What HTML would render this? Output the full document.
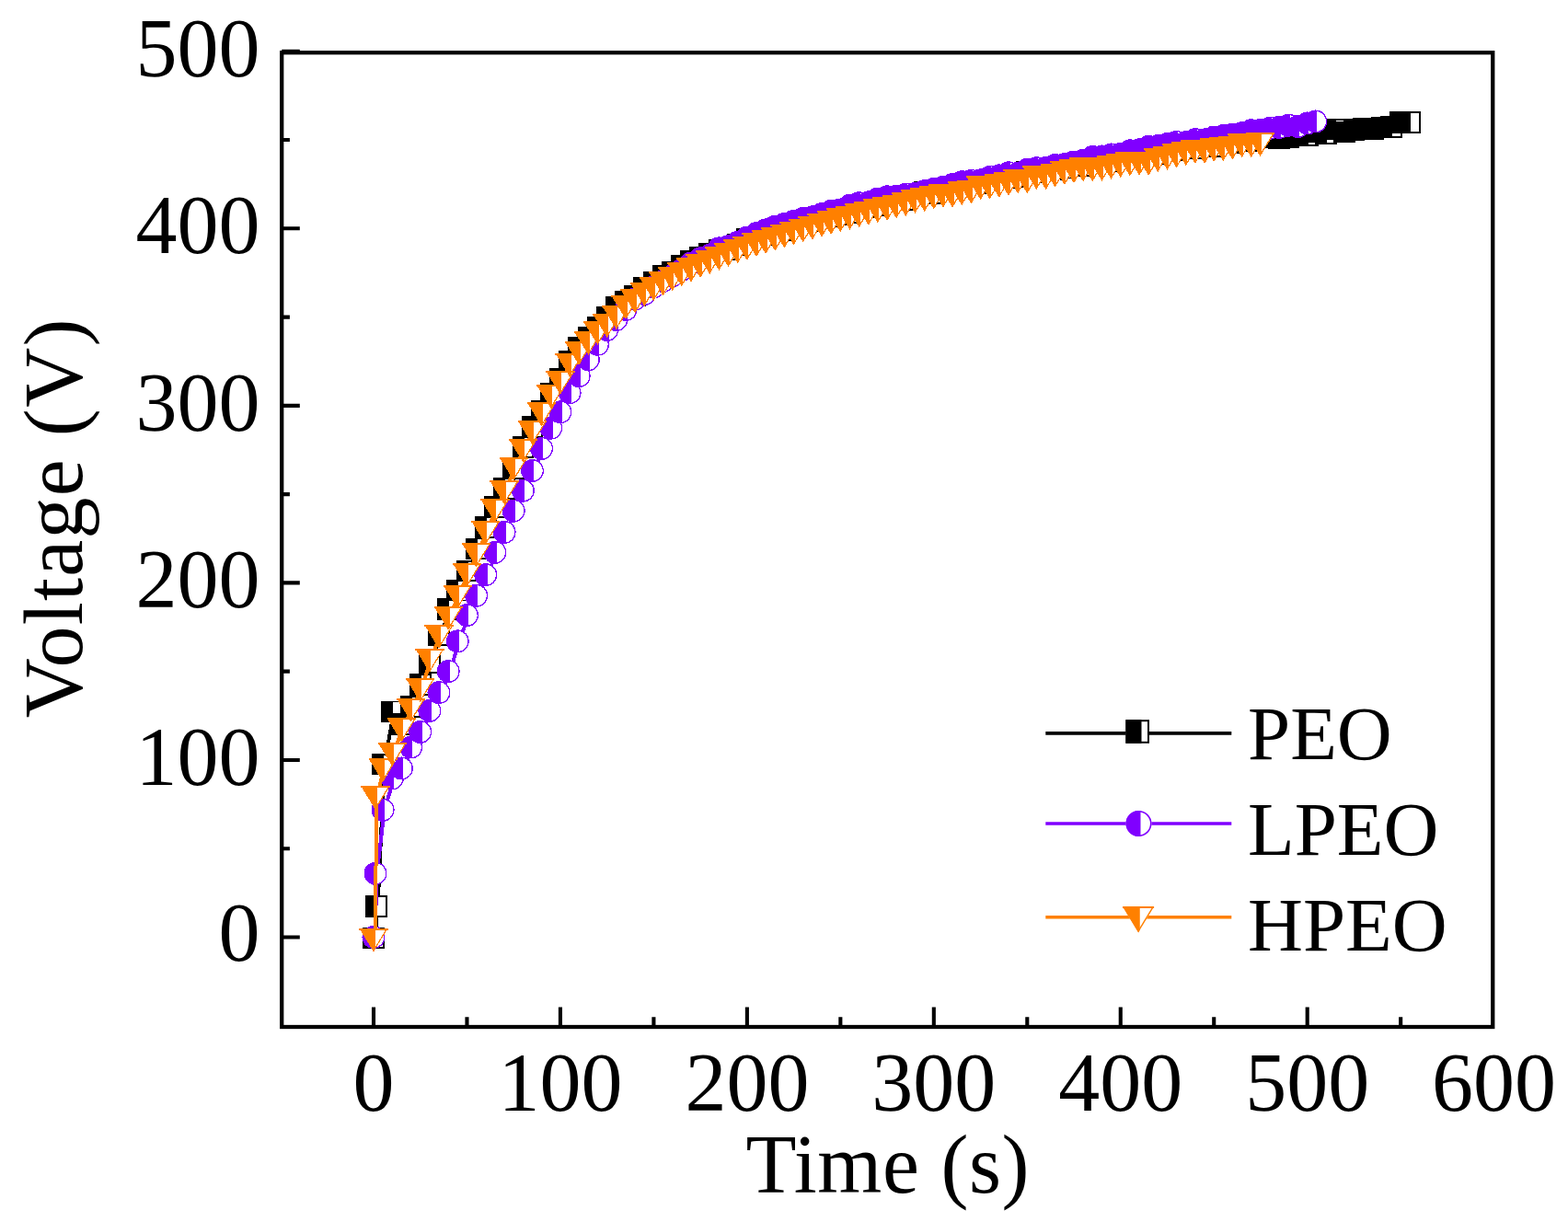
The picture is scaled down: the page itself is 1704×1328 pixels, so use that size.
<!DOCTYPE html>
<html><head><meta charset="utf-8"><style>
html,body{margin:0;padding:0;background:#fff;}
svg{display:block;}
text{font-family:"Liberation Serif","Times New Roman",serif;fill:#000;}
</style></head><body>
<svg width="1704" height="1328" viewBox="0 0 1704 1328">
<rect width="1704" height="1328" fill="#fff"/>
<defs><g id="mS"><rect x="-11.85" y="-11.85" width="23.7" height="23.7" fill="#fff"/><rect x="-11.85" y="-11.85" width="13.049999999999999" height="23.7" fill="#000"/><rect x="-10.90" y="-10.90" width="21.80" height="21.80" fill="none" stroke="#000" stroke-width="1.9"/></g><g id="mC"><circle r="12.5" fill="#fff"/><path d="M1.8 -12.37A12.5 12.5 0 1 0 1.8 12.37Z" fill="#8000ff"/><circle r="11.80" fill="none" stroke="#8000ff" stroke-width="1.4"/></g><g id="mT"><path d="M-15.6 -9.9L15.6 -9.9L0 16.1Z" fill="#fff"/><path d="M-15.6 -9.9L1.5 -9.9L1.5 13.60L0 16.1Z" fill="#ff8000"/><path d="M-14.50 -9.00L14.50 -9.00L0 14.60Z" fill="none" stroke="#ff8000" stroke-width="1.3"/><path d="M-15.6 -8.9H15.6" stroke="#ff8000" stroke-width="2"/></g><g id="mSL"><rect x="-12.8" y="-12.8" width="25.6" height="25.6" fill="#fff"/><rect x="-12.8" y="-12.8" width="17.1" height="25.6" fill="#000"/><rect x="-11.80" y="-11.80" width="23.60" height="23.60" fill="none" stroke="#000" stroke-width="2"/></g></defs><path d="M406.0 1019.5 409.0 984.8 416.1 830.6 426.3 773.4 436.4 787.2 446.6 767.8 456.7 744.2 466.9 720.5 477.0 690.4 487.2 661.8 497.3 641.6 507.5 620.5 517.6 596.4 527.8 573.2 537.9 551.2 548.1 531.3 558.2 509.2 568.4 486.1 578.5 463.8 588.6 446.9 598.8 427.7 608.9 412.0 619.1 392.6 629.2 377.7 639.4 366.9 649.5 356.0 659.7 345.2 669.8 334.3 680.0 327.6 690.1 321.5 700.3 312.7 710.4 306.6 720.6 299.8 730.7 295.7 740.9 288.9 751.0 284.2 761.1 280.1 771.3 275.7 781.4 272.3 791.6 271.2 801.7 266.3 811.9 260.2 822.0 258.4 832.2 255.3 842.3 250.5 852.5 250.2 862.6 244.1 872.8 242.5 882.9 240.2 893.1 237.0 903.2 235.0 913.3 233.1 923.5 231.5 933.6 225.6 943.8 224.9 953.9 222.7 964.1 218.3 974.2 214.5 984.4 217.1 994.5 211.5 1004.7 209.3 1014.8 210.1 1025.0 206.4 1035.1 203.8 1045.3 203.3 1055.4 197.6 1065.6 199.0 1075.7 195.4 1085.8 192.1 1096.0 193.0 1106.1 192.5 1116.3 187.1 1126.4 187.4 1136.6 184.0 1146.7 184.4 1156.9 182.6 1167.0 178.4 1177.2 179.8 1187.3 177.3 1197.5 175.8 1207.6 174.9 1217.8 171.4 1227.9 171.5 1238.1 170.6 1248.2 165.2 1258.3 167.5 1268.5 163.7 1278.6 162.8 1288.8 159.7 1298.9 161.1 1309.1 157.7 1319.2 159.3 1329.4 155.0 1339.5 155.1 1349.7 153.1 1359.8 152.9 1370.0 149.6 1380.1 148.3 1390.3 150.0 1400.4 148.9 1410.6 146.8 1420.7 147.5 1430.8 142.8 1441.0 144.9 1451.1 140.5 1461.3 143.4 1471.4 140.7 1481.6 139.6 1491.7 140.5 1501.9 138.6 1512.0 137.7 1522.2 133.1 1532.2 133.0" fill="none" stroke="#000000" stroke-width="4" stroke-linejoin="round" shape-rendering="crispEdges" transform="translate(1.5 1)"/>
<g shape-rendering="crispEdges"><use href="#mS" x="406.0" y="1019.5"/><use href="#mS" x="409.0" y="984.8"/><use href="#mS" x="416.1" y="830.6"/><use href="#mS" x="426.3" y="773.4"/><use href="#mS" x="436.4" y="787.2"/><use href="#mS" x="446.6" y="767.8"/><use href="#mS" x="456.7" y="744.2"/><use href="#mS" x="466.9" y="720.5"/><use href="#mS" x="477.0" y="690.4"/><use href="#mS" x="487.2" y="661.8"/><use href="#mS" x="497.3" y="641.6"/><use href="#mS" x="507.5" y="620.5"/><use href="#mS" x="517.6" y="596.4"/><use href="#mS" x="527.8" y="573.2"/><use href="#mS" x="537.9" y="551.2"/><use href="#mS" x="548.1" y="531.3"/><use href="#mS" x="558.2" y="509.2"/><use href="#mS" x="568.4" y="486.1"/><use href="#mS" x="578.5" y="463.8"/><use href="#mS" x="588.6" y="446.9"/><use href="#mS" x="598.8" y="427.7"/><use href="#mS" x="608.9" y="412.0"/><use href="#mS" x="619.1" y="392.6"/><use href="#mS" x="629.2" y="377.7"/><use href="#mS" x="639.4" y="366.9"/><use href="#mS" x="649.5" y="356.0"/><use href="#mS" x="659.7" y="345.2"/><use href="#mS" x="669.8" y="334.3"/><use href="#mS" x="680.0" y="327.6"/><use href="#mS" x="690.1" y="321.5"/><use href="#mS" x="700.3" y="312.7"/><use href="#mS" x="710.4" y="306.6"/><use href="#mS" x="720.6" y="299.8"/><use href="#mS" x="730.7" y="295.7"/><use href="#mS" x="740.9" y="288.9"/><use href="#mS" x="751.0" y="284.2"/><use href="#mS" x="761.1" y="280.1"/><use href="#mS" x="771.3" y="275.7"/><use href="#mS" x="781.4" y="272.3"/><use href="#mS" x="791.6" y="271.2"/><use href="#mS" x="801.7" y="266.3"/><use href="#mS" x="811.9" y="260.2"/><use href="#mS" x="822.0" y="258.4"/><use href="#mS" x="832.2" y="255.3"/><use href="#mS" x="842.3" y="250.5"/><use href="#mS" x="852.5" y="250.2"/><use href="#mS" x="862.6" y="244.1"/><use href="#mS" x="872.8" y="242.5"/><use href="#mS" x="882.9" y="240.2"/><use href="#mS" x="893.1" y="237.0"/><use href="#mS" x="903.2" y="235.0"/><use href="#mS" x="913.3" y="233.1"/><use href="#mS" x="923.5" y="231.5"/><use href="#mS" x="933.6" y="225.6"/><use href="#mS" x="943.8" y="224.9"/><use href="#mS" x="953.9" y="222.7"/><use href="#mS" x="964.1" y="218.3"/><use href="#mS" x="974.2" y="214.5"/><use href="#mS" x="984.4" y="217.1"/><use href="#mS" x="994.5" y="211.5"/><use href="#mS" x="1004.7" y="209.3"/><use href="#mS" x="1014.8" y="210.1"/><use href="#mS" x="1025.0" y="206.4"/><use href="#mS" x="1035.1" y="203.8"/><use href="#mS" x="1045.3" y="203.3"/><use href="#mS" x="1055.4" y="197.6"/><use href="#mS" x="1065.6" y="199.0"/><use href="#mS" x="1075.7" y="195.4"/><use href="#mS" x="1085.8" y="192.1"/><use href="#mS" x="1096.0" y="193.0"/><use href="#mS" x="1106.1" y="192.5"/><use href="#mS" x="1116.3" y="187.1"/><use href="#mS" x="1126.4" y="187.4"/><use href="#mS" x="1136.6" y="184.0"/><use href="#mS" x="1146.7" y="184.4"/><use href="#mS" x="1156.9" y="182.6"/><use href="#mS" x="1167.0" y="178.4"/><use href="#mS" x="1177.2" y="179.8"/><use href="#mS" x="1187.3" y="177.3"/><use href="#mS" x="1197.5" y="175.8"/><use href="#mS" x="1207.6" y="174.9"/><use href="#mS" x="1217.8" y="171.4"/><use href="#mS" x="1227.9" y="171.5"/><use href="#mS" x="1238.1" y="170.6"/><use href="#mS" x="1248.2" y="165.2"/><use href="#mS" x="1258.3" y="167.5"/><use href="#mS" x="1268.5" y="163.7"/><use href="#mS" x="1278.6" y="162.8"/><use href="#mS" x="1288.8" y="159.7"/><use href="#mS" x="1298.9" y="161.1"/><use href="#mS" x="1309.1" y="157.7"/><use href="#mS" x="1319.2" y="159.3"/><use href="#mS" x="1329.4" y="155.0"/><use href="#mS" x="1339.5" y="155.1"/><use href="#mS" x="1349.7" y="153.1"/><use href="#mS" x="1359.8" y="152.9"/><use href="#mS" x="1370.0" y="149.6"/><use href="#mS" x="1380.1" y="148.3"/><use href="#mS" x="1390.3" y="150.0"/><use href="#mS" x="1400.4" y="148.9"/><use href="#mS" x="1410.6" y="146.8"/><use href="#mS" x="1420.7" y="147.5"/><use href="#mS" x="1430.8" y="142.8"/><use href="#mS" x="1441.0" y="144.9"/><use href="#mS" x="1451.1" y="140.5"/><use href="#mS" x="1461.3" y="143.4"/><use href="#mS" x="1471.4" y="140.7"/><use href="#mS" x="1481.6" y="139.6"/><use href="#mS" x="1491.7" y="140.5"/><use href="#mS" x="1501.9" y="138.6"/><use href="#mS" x="1512.0" y="137.7"/><use href="#mS" x="1522.2" y="133.1"/><use href="#mS" x="1532.2" y="133.0"/></g>
<path d="M406.0 1018.5 408.0 949.3 416.1 880.3 426.3 846.0 436.4 835.0 446.6 812.0 456.7 795.5 466.9 772.4 477.0 752.6 487.2 729.6 497.3 696.9 507.5 668.6 517.6 647.2 527.8 624.6 537.9 600.3 548.1 578.4 558.2 555.1 568.4 533.1 578.5 511.5 588.6 487.4 598.8 465.1 608.9 447.8 619.1 426.7 629.2 408.6 639.4 390.8 649.5 374.2 659.7 358.5 669.8 347.5 680.0 336.5 690.1 325.0 700.3 319.5 710.4 312.0 720.6 305.5 730.7 299.8 740.9 293.4 751.0 286.0 761.1 280.8 771.3 277.4 781.4 269.9 791.6 267.7 801.7 263.3 811.9 258.1 822.0 253.7 832.2 249.9 842.3 246.2 852.5 243.4 862.6 240.4 872.8 237.5 882.9 235.9 893.1 232.5 903.2 229.4 913.3 228.0 923.5 223.2 933.6 220.7 943.8 219.9 953.9 216.0 964.1 213.8 974.2 213.2 984.4 211.1 994.5 210.4 1004.7 207.6 1014.8 205.3 1025.0 203.2 1035.1 200.5 1045.3 197.8 1055.4 196.4 1065.6 195.9 1075.7 192.4 1085.8 190.9 1096.0 187.9 1106.1 188.4 1116.3 184.3 1126.4 182.7 1136.6 182.6 1146.7 179.5 1156.9 178.6 1167.0 176.0 1177.2 174.4 1187.3 170.5 1197.5 170.0 1207.6 168.0 1217.8 167.3 1227.9 163.9 1238.1 162.8 1248.2 159.4 1258.3 158.6 1268.5 156.6 1278.6 154.4 1288.8 154.7 1298.9 151.7 1309.1 151.9 1319.2 149.1 1329.4 147.6 1339.5 146.2 1349.7 144.8 1359.8 141.8 1370.0 141.2 1380.1 139.2 1390.3 138.4 1400.4 136.2 1410.6 137.5 1420.7 134.0 1429.7 132.0" fill="none" stroke="#8000ff" stroke-width="4" stroke-linejoin="round" shape-rendering="crispEdges" transform="translate(1.5 1)"/>
<g shape-rendering="crispEdges"><use href="#mC" x="406.0" y="1018.5"/><use href="#mC" x="408.0" y="949.3"/><use href="#mC" x="416.1" y="880.3"/><use href="#mC" x="426.3" y="846.0"/><use href="#mC" x="436.4" y="835.0"/><use href="#mC" x="446.6" y="812.0"/><use href="#mC" x="456.7" y="795.5"/><use href="#mC" x="466.9" y="772.4"/><use href="#mC" x="477.0" y="752.6"/><use href="#mC" x="487.2" y="729.6"/><use href="#mC" x="497.3" y="696.9"/><use href="#mC" x="507.5" y="668.6"/><use href="#mC" x="517.6" y="647.2"/><use href="#mC" x="527.8" y="624.6"/><use href="#mC" x="537.9" y="600.3"/><use href="#mC" x="548.1" y="578.4"/><use href="#mC" x="558.2" y="555.1"/><use href="#mC" x="568.4" y="533.1"/><use href="#mC" x="578.5" y="511.5"/><use href="#mC" x="588.6" y="487.4"/><use href="#mC" x="598.8" y="465.1"/><use href="#mC" x="608.9" y="447.8"/><use href="#mC" x="619.1" y="426.7"/><use href="#mC" x="629.2" y="408.6"/><use href="#mC" x="639.4" y="390.8"/><use href="#mC" x="649.5" y="374.2"/><use href="#mC" x="659.7" y="358.5"/><use href="#mC" x="669.8" y="347.5"/><use href="#mC" x="680.0" y="336.5"/><use href="#mC" x="690.1" y="325.0"/><use href="#mC" x="700.3" y="319.5"/><use href="#mC" x="710.4" y="312.0"/><use href="#mC" x="720.6" y="305.5"/><use href="#mC" x="730.7" y="299.8"/><use href="#mC" x="740.9" y="293.4"/><use href="#mC" x="751.0" y="286.0"/><use href="#mC" x="761.1" y="280.8"/><use href="#mC" x="771.3" y="277.4"/><use href="#mC" x="781.4" y="269.9"/><use href="#mC" x="791.6" y="267.7"/><use href="#mC" x="801.7" y="263.3"/><use href="#mC" x="811.9" y="258.1"/><use href="#mC" x="822.0" y="253.7"/><use href="#mC" x="832.2" y="249.9"/><use href="#mC" x="842.3" y="246.2"/><use href="#mC" x="852.5" y="243.4"/><use href="#mC" x="862.6" y="240.4"/><use href="#mC" x="872.8" y="237.5"/><use href="#mC" x="882.9" y="235.9"/><use href="#mC" x="893.1" y="232.5"/><use href="#mC" x="903.2" y="229.4"/><use href="#mC" x="913.3" y="228.0"/><use href="#mC" x="923.5" y="223.2"/><use href="#mC" x="933.6" y="220.7"/><use href="#mC" x="943.8" y="219.9"/><use href="#mC" x="953.9" y="216.0"/><use href="#mC" x="964.1" y="213.8"/><use href="#mC" x="974.2" y="213.2"/><use href="#mC" x="984.4" y="211.1"/><use href="#mC" x="994.5" y="210.4"/><use href="#mC" x="1004.7" y="207.6"/><use href="#mC" x="1014.8" y="205.3"/><use href="#mC" x="1025.0" y="203.2"/><use href="#mC" x="1035.1" y="200.5"/><use href="#mC" x="1045.3" y="197.8"/><use href="#mC" x="1055.4" y="196.4"/><use href="#mC" x="1065.6" y="195.9"/><use href="#mC" x="1075.7" y="192.4"/><use href="#mC" x="1085.8" y="190.9"/><use href="#mC" x="1096.0" y="187.9"/><use href="#mC" x="1106.1" y="188.4"/><use href="#mC" x="1116.3" y="184.3"/><use href="#mC" x="1126.4" y="182.7"/><use href="#mC" x="1136.6" y="182.6"/><use href="#mC" x="1146.7" y="179.5"/><use href="#mC" x="1156.9" y="178.6"/><use href="#mC" x="1167.0" y="176.0"/><use href="#mC" x="1177.2" y="174.4"/><use href="#mC" x="1187.3" y="170.5"/><use href="#mC" x="1197.5" y="170.0"/><use href="#mC" x="1207.6" y="168.0"/><use href="#mC" x="1217.8" y="167.3"/><use href="#mC" x="1227.9" y="163.9"/><use href="#mC" x="1238.1" y="162.8"/><use href="#mC" x="1248.2" y="159.4"/><use href="#mC" x="1258.3" y="158.6"/><use href="#mC" x="1268.5" y="156.6"/><use href="#mC" x="1278.6" y="154.4"/><use href="#mC" x="1288.8" y="154.7"/><use href="#mC" x="1298.9" y="151.7"/><use href="#mC" x="1309.1" y="151.9"/><use href="#mC" x="1319.2" y="149.1"/><use href="#mC" x="1329.4" y="147.6"/><use href="#mC" x="1339.5" y="146.2"/><use href="#mC" x="1349.7" y="144.8"/><use href="#mC" x="1359.8" y="141.8"/><use href="#mC" x="1370.0" y="141.2"/><use href="#mC" x="1380.1" y="139.2"/><use href="#mC" x="1390.3" y="138.4"/><use href="#mC" x="1400.4" y="136.2"/><use href="#mC" x="1410.6" y="137.5"/><use href="#mC" x="1420.7" y="134.0"/><use href="#mC" x="1429.7" y="132.0"/></g>
<path d="M406.0 1018.5 408.0 864.2 416.1 833.8 426.3 816.8 436.4 790.3 446.6 768.4 456.7 747.1 466.9 714.8 477.0 688.9 487.2 668.8 497.3 645.5 507.5 621.8 517.6 600.3 527.8 575.8 537.9 552.0 548.1 532.3 558.2 506.4 568.4 486.5 578.5 467.2 588.6 447.3 598.8 428.1 608.9 413.0 619.1 393.5 629.2 380.6 639.4 369.7 649.5 358.9 659.7 350.8 669.8 342.0 680.0 331.1 690.1 324.3 700.3 317.0 710.4 311.0 720.6 305.4 730.7 300.1 740.9 295.1 751.0 290.4 761.1 286.0 771.3 281.8 781.4 277.8 791.6 273.9 801.7 270.2 811.9 266.7 822.0 263.2 832.2 259.9 842.3 256.6 852.5 253.4 862.6 250.4 872.8 247.4 882.9 244.5 893.1 241.7 903.2 238.9 913.3 236.2 923.5 233.6 933.6 231.1 943.8 228.6 953.9 226.1 964.1 223.8 974.2 221.4 984.4 219.1 994.5 215.9 1004.7 214.0 1014.8 211.5 1025.0 209.7 1035.1 209.7 1045.3 207.2 1055.4 205.4 1065.6 201.1 1075.7 200.5 1085.8 198.6 1096.0 196.8 1106.1 194.3 1116.3 194.3 1126.4 190.0 1136.6 190.0 1146.7 187.5 1156.9 185.0 1167.0 183.2 1177.2 181.3 1187.3 181.3 1197.5 180.7 1207.6 178.6 1217.8 176.9 1227.9 175.3 1238.1 174.7 1248.2 174.7 1258.3 170.8 1268.5 168.6 1278.6 166.3 1288.8 164.1 1298.9 161.9 1309.1 161.9 1319.2 159.7 1329.4 159.1 1339.5 157.4 1349.7 155.2 1359.8 155.2 1369.5 154.0" fill="none" stroke="#ff8000" stroke-width="4" stroke-linejoin="round" shape-rendering="crispEdges" transform="translate(1.5 1)"/>
<g shape-rendering="crispEdges"><use href="#mT" x="406.0" y="1018.5"/><use href="#mT" x="408.0" y="864.2"/><use href="#mT" x="416.1" y="833.8"/><use href="#mT" x="426.3" y="816.8"/><use href="#mT" x="436.4" y="790.3"/><use href="#mT" x="446.6" y="768.4"/><use href="#mT" x="456.7" y="747.1"/><use href="#mT" x="466.9" y="714.8"/><use href="#mT" x="477.0" y="688.9"/><use href="#mT" x="487.2" y="668.8"/><use href="#mT" x="497.3" y="645.5"/><use href="#mT" x="507.5" y="621.8"/><use href="#mT" x="517.6" y="600.3"/><use href="#mT" x="527.8" y="575.8"/><use href="#mT" x="537.9" y="552.0"/><use href="#mT" x="548.1" y="532.3"/><use href="#mT" x="558.2" y="506.4"/><use href="#mT" x="568.4" y="486.5"/><use href="#mT" x="578.5" y="467.2"/><use href="#mT" x="588.6" y="447.3"/><use href="#mT" x="598.8" y="428.1"/><use href="#mT" x="608.9" y="413.0"/><use href="#mT" x="619.1" y="393.5"/><use href="#mT" x="629.2" y="380.6"/><use href="#mT" x="639.4" y="369.7"/><use href="#mT" x="649.5" y="358.9"/><use href="#mT" x="659.7" y="350.8"/><use href="#mT" x="669.8" y="342.0"/><use href="#mT" x="680.0" y="331.1"/><use href="#mT" x="690.1" y="324.3"/><use href="#mT" x="700.3" y="317.0"/><use href="#mT" x="710.4" y="311.0"/><use href="#mT" x="720.6" y="305.4"/><use href="#mT" x="730.7" y="300.1"/><use href="#mT" x="740.9" y="295.1"/><use href="#mT" x="751.0" y="290.4"/><use href="#mT" x="761.1" y="286.0"/><use href="#mT" x="771.3" y="281.8"/><use href="#mT" x="781.4" y="277.8"/><use href="#mT" x="791.6" y="273.9"/><use href="#mT" x="801.7" y="270.2"/><use href="#mT" x="811.9" y="266.7"/><use href="#mT" x="822.0" y="263.2"/><use href="#mT" x="832.2" y="259.9"/><use href="#mT" x="842.3" y="256.6"/><use href="#mT" x="852.5" y="253.4"/><use href="#mT" x="862.6" y="250.4"/><use href="#mT" x="872.8" y="247.4"/><use href="#mT" x="882.9" y="244.5"/><use href="#mT" x="893.1" y="241.7"/><use href="#mT" x="903.2" y="238.9"/><use href="#mT" x="913.3" y="236.2"/><use href="#mT" x="923.5" y="233.6"/><use href="#mT" x="933.6" y="231.1"/><use href="#mT" x="943.8" y="228.6"/><use href="#mT" x="953.9" y="226.1"/><use href="#mT" x="964.1" y="223.8"/><use href="#mT" x="974.2" y="221.4"/><use href="#mT" x="984.4" y="219.1"/><use href="#mT" x="994.5" y="215.9"/><use href="#mT" x="1004.7" y="214.0"/><use href="#mT" x="1014.8" y="211.5"/><use href="#mT" x="1025.0" y="209.7"/><use href="#mT" x="1035.1" y="209.7"/><use href="#mT" x="1045.3" y="207.2"/><use href="#mT" x="1055.4" y="205.4"/><use href="#mT" x="1065.6" y="201.1"/><use href="#mT" x="1075.7" y="200.5"/><use href="#mT" x="1085.8" y="198.6"/><use href="#mT" x="1096.0" y="196.8"/><use href="#mT" x="1106.1" y="194.3"/><use href="#mT" x="1116.3" y="194.3"/><use href="#mT" x="1126.4" y="190.0"/><use href="#mT" x="1136.6" y="190.0"/><use href="#mT" x="1146.7" y="187.5"/><use href="#mT" x="1156.9" y="185.0"/><use href="#mT" x="1167.0" y="183.2"/><use href="#mT" x="1177.2" y="181.3"/><use href="#mT" x="1187.3" y="181.3"/><use href="#mT" x="1197.5" y="180.7"/><use href="#mT" x="1207.6" y="178.6"/><use href="#mT" x="1217.8" y="176.9"/><use href="#mT" x="1227.9" y="175.3"/><use href="#mT" x="1238.1" y="174.7"/><use href="#mT" x="1248.2" y="174.7"/><use href="#mT" x="1258.3" y="170.8"/><use href="#mT" x="1268.5" y="168.6"/><use href="#mT" x="1278.6" y="166.3"/><use href="#mT" x="1288.8" y="164.1"/><use href="#mT" x="1298.9" y="161.9"/><use href="#mT" x="1309.1" y="161.9"/><use href="#mT" x="1319.2" y="159.7"/><use href="#mT" x="1329.4" y="159.1"/><use href="#mT" x="1339.5" y="157.4"/><use href="#mT" x="1349.7" y="155.2"/><use href="#mT" x="1359.8" y="155.2"/><use href="#mT" x="1369.5" y="154.0"/></g>
<rect x="306.2" y="57.2" width="1316.05" height="1058.80" fill="none" stroke="#000" stroke-width="4.3"/>
<path d="M306.20 1018.50H325.8 M306.20 825.95H325.8 M306.20 633.40H325.8 M306.20 440.85H325.8 M306.20 248.30H325.8 M306.20 55.75H325.8 M306.20 922.23H314.9 M306.20 729.67H314.9 M306.20 537.12H314.9 M306.20 344.58H314.9 M306.20 152.02H314.9 M406.00 1116.00V1094.5 M608.94 1116.00V1094.5 M811.88 1116.00V1094.5 M1014.82 1116.00V1094.5 M1217.76 1116.00V1094.5 M1420.70 1116.00V1094.5 M507.47 1116.00V1105.2 M710.41 1116.00V1105.2 M913.35 1116.00V1105.2 M1116.29 1116.00V1105.2 M1319.23 1116.00V1105.2 M1522.17 1116.00V1105.2" stroke="#000" stroke-width="4.1" fill="none"/>
<g font-size="90">
<text x="282.5" y="1043.5" text-anchor="end">0</text>
<text x="282.5" y="853.0" text-anchor="end">100</text>
<text x="282.5" y="660.4" text-anchor="end">200</text>
<text x="282.5" y="467.9" text-anchor="end">300</text>
<text x="282.5" y="275.3" text-anchor="end">400</text>
<text x="282.5" y="82.8" text-anchor="end">500</text>
<text x="406.0" y="1207" text-anchor="middle">0</text>
<text x="608.9" y="1207" text-anchor="middle">100</text>
<text x="811.9" y="1207" text-anchor="middle">200</text>
<text x="1014.8" y="1207" text-anchor="middle">300</text>
<text x="1217.8" y="1207" text-anchor="middle">400</text>
<text x="1420.7" y="1207" text-anchor="middle">500</text>
<text x="1623.6" y="1207" text-anchor="middle">600</text>
</g>
<text font-size="90" transform="translate(88.9 780.2) rotate(-90)" textLength="433.6" lengthAdjust="spacing">Voltage (V)</text>
<text x="810.4" y="1295.9" font-size="90" textLength="308.2" lengthAdjust="spacing">Time (s)</text>
<path d="M1136.3 796.9H1338.3" stroke="#000000" stroke-width="3.6"/>
<path d="M1136.3 895H1338.3" stroke="#8000ff" stroke-width="3.6"/>
<path d="M1136.3 996.7H1338.3" stroke="#ff8000" stroke-width="3.6"/>
<use href="#mSL" x="1236.2" y="795"/>
<use href="#mC" transform="translate(1237.5 895) scale(1.12)"/>
<use href="#mT" transform="translate(1237.1 995.8) scale(1.09 1.1)"/>
<g font-size="83"><text x="1356" y="824.8">PEO</text><text x="1356" y="928.6">LPEO</text><text x="1356" y="1032.5">HPEO</text></g>
</svg>
</body></html>
